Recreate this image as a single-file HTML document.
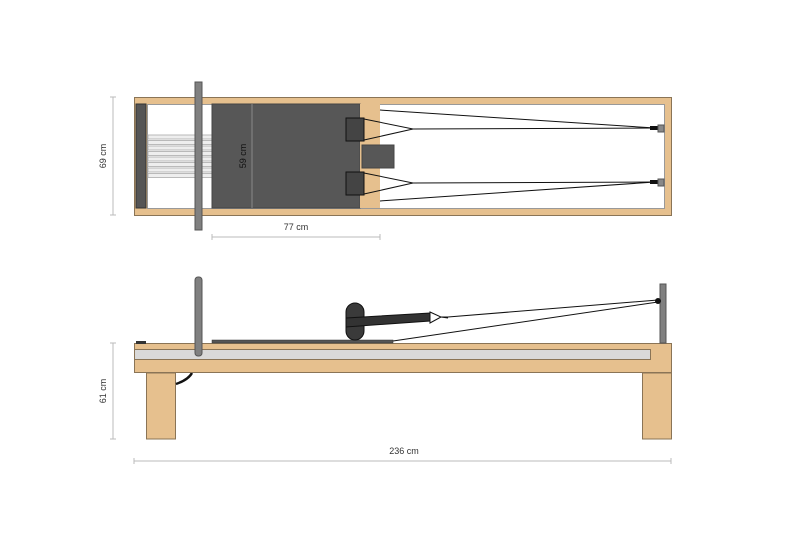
<!DOCTYPE html>
<html><head><style>body{margin:0;background:#fff}svg{display:block}text{font-family:"Liberation Sans",sans-serif;font-size:9px;fill:#333}</style></head>
<body>
<svg width="800" height="533" viewBox="0 0 800 533" xmlns="http://www.w3.org/2000/svg">
<!-- TOP VIEW -->
<rect x="134.5" y="97.5" width="537" height="118" fill="#e6c08e" stroke="#8a7456"/>
<rect x="147.5" y="104.5" width="517" height="104" fill="#fff" stroke="#999"/>
<rect x="136" y="104" width="10" height="104" fill="#555" stroke="#333"/>
<g fill="#eee" stroke="#aaa" stroke-width="0.8">
<rect x="148" y="135" width="64" height="4"/><rect x="148" y="140.5" width="64" height="4"/>
<rect x="148" y="146" width="64" height="4"/><rect x="148" y="151.5" width="64" height="4"/>
<rect x="148" y="157" width="64" height="4"/><rect x="148" y="162.5" width="64" height="4"/>
<rect x="148" y="168" width="64" height="4"/><rect x="148" y="173.5" width="64" height="4"/>
</g>
<rect x="212" y="104" width="148" height="104" fill="#575757" stroke="#444"/>
<line x1="252" y1="104" x2="252" y2="208" stroke="#888" stroke-width="1"/>
<rect x="360" y="104" width="20" height="104" fill="#e6c08e"/>
<rect x="195" y="82" width="7" height="148" fill="#808080" stroke="#555"/>
<rect x="362" y="145" width="32" height="23" fill="#575757" stroke="#444"/>
<rect x="346" y="118" width="18" height="23" fill="#444" stroke="#111"/>
<rect x="346" y="172" width="18" height="23" fill="#444" stroke="#111"/>
<g stroke="#111" fill="none" stroke-width="1">
<path d="M364 119 L413 129 L364 140"/><path d="M364 173 L413 183 L364 194"/>
<line x1="413" y1="129" x2="655" y2="128"/><line x1="413" y1="183" x2="655" y2="182"/>
<line x1="380" y1="110" x2="655" y2="128"/><line x1="380" y1="201" x2="655" y2="182"/>
</g>
<rect x="650" y="126" width="8" height="4" fill="#111"/><rect x="650" y="180" width="8" height="4" fill="#111"/>
<rect x="658" y="125" width="6" height="7" fill="#888" stroke="#555"/>
<rect x="658" y="179" width="6" height="7" fill="#888" stroke="#555"/>
<!-- dims -->
<g stroke="#bbb"><line x1="113" y1="97" x2="113" y2="215"/><line x1="110" y1="97" x2="116" y2="97"/><line x1="110" y1="215" x2="116" y2="215"/>
<line x1="212" y1="237" x2="380" y2="237"/><line x1="212" y1="234" x2="212" y2="240"/><line x1="380" y1="234" x2="380" y2="240"/>
<line x1="113" y1="343" x2="113" y2="439"/><line x1="110" y1="343" x2="116" y2="343"/><line x1="110" y1="439" x2="116" y2="439"/>
<line x1="134" y1="461" x2="671" y2="461"/><line x1="134" y1="458" x2="134" y2="464"/><line x1="671" y1="458" x2="671" y2="464"/></g>
<text x="106" y="156" text-anchor="middle" transform="rotate(-90 106 156)">69 cm</text>
<text x="246" y="156" text-anchor="middle" transform="rotate(-90 246 156)" style="fill:#111">59 cm</text>
<text x="296" y="230" text-anchor="middle">77 cm</text>
<text x="106" y="391" text-anchor="middle" transform="rotate(-90 106 391)">61 cm</text>
<text x="404" y="454" text-anchor="middle">236 cm</text>
<!-- SIDE VIEW -->
<rect x="146.5" y="373" width="29" height="66" fill="#e6c08e" stroke="#8a7456"/>
<rect x="642.5" y="373" width="29" height="66" fill="#e6c08e" stroke="#8a7456"/>
<path d="M176 384 Q188 380 192 373" stroke="#111" stroke-width="2.5" fill="none"/>
<rect x="134.5" y="343.5" width="537" height="29" fill="#e6c08e" stroke="#8a7456"/>
<rect x="134.5" y="349.5" width="516" height="10" fill="#d9d9d9" stroke="#8a7456"/>
<rect x="136" y="341" width="10" height="3" fill="#333"/>
<rect x="212" y="340" width="181" height="3" fill="#555" stroke="#333" stroke-width="0.5"/>
<rect x="195" y="277" width="7" height="79" rx="3" fill="#808080" stroke="#555"/>
<rect x="660" y="284" width="6" height="59" fill="#808080" stroke="#555"/>
<rect x="346" y="303" width="18" height="37" rx="9" fill="#3a3a3a" stroke="#111"/>
<polygon points="346,318 430,313 430,321 346,327" fill="#333" stroke="#111"/>
<polygon points="430,312 441,317 430,323" fill="#fff" stroke="#111"/>
<g stroke="#111" fill="none"><path d="M441 317 L448 317 L658 300 M441 317 L448 318"/>
<line x1="393" y1="341" x2="658" y2="302"/></g>
<circle cx="658" cy="301" r="3" fill="#111"/>
</svg>
</body></html>
